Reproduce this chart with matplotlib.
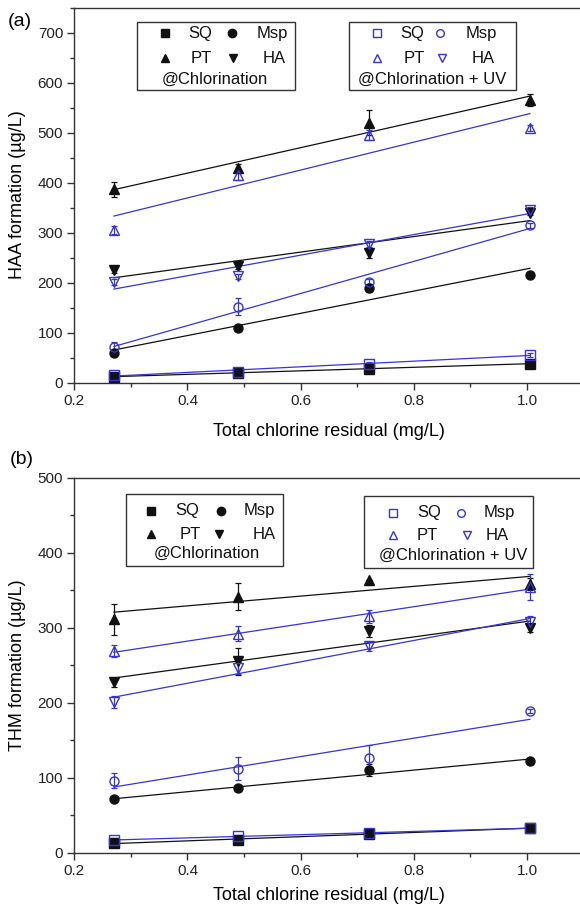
import numpy as np
import matplotlib
matplotlib.use('Agg')
import matplotlib.pyplot as plt
from matplotlib.patches import Rectangle
from matplotlib.lines import Line2D
from matplotlib.ticker import MultipleLocator

plt.rcParams['font.family'] = ['Liberation Sans', 'DejaVu Sans']

# ---------------- data ----------------
x_res = [0.27, 0.49, 0.72, 1.005]
series_names = ['SQ', 'Msp', 'PT', 'HA']

# (a) HAA formation (ug/L)
haa_cl_SQ = [12, 20, 28, 38]
haa_cl_Msp = [60, 109, 189, 216]
haa_cl_PT = [387, 430, 520, 565]
haa_cl_HA = [225, 234, 259, 340]
haa_uv_SQ = [16, 22, 38, 56]
haa_uv_Msp = [72, 152, 202, 315]
haa_uv_PT = [305, 415, 495, 510]
haa_uv_HA = [202, 213, 277, 346]

haa_cl_SQ_err = [3, 3, 3, 3]
haa_cl_Msp_err = [5, 5, 8, 5]
haa_cl_PT_err = [15, 8, 25, 12]
haa_cl_HA_err = [6, 6, 10, 5]
haa_uv_SQ_err = [3, 3, 4, 4]
haa_uv_Msp_err = [10, 17, 5, 5]
haa_uv_PT_err = [8, 10, 10, 6]
haa_uv_HA_err = [6, 5, 6, 5]

# (b) THM formation (ug/L)
thm_cl_SQ = [13, 17, 25, 33]
thm_cl_Msp = [71, 86, 110, 122]
thm_cl_PT = [311, 341, 364, 358]
thm_cl_HA = [227, 255, 296, 299]
thm_uv_SQ = [17, 22, 26, 33]
thm_uv_Msp = [96, 112, 126, 189]
thm_uv_PT = [269, 292, 315, 354]
thm_uv_HA = [201, 246, 275, 308]

thm_cl_SQ_err = [2, 2, 2, 2]
thm_cl_Msp_err = [3, 3, 8, 3]
thm_cl_PT_err = [21, 18, 0, 8]
thm_cl_HA_err = [6, 18, 8, 5]
thm_uv_SQ_err = [2, 2, 2, 2]
thm_uv_Msp_err = [10, 15, 17, 3]
thm_uv_PT_err = [8, 10, 9, 17]
thm_uv_HA_err = [8, 8, 6, 7]

# ---------------- style ----------------
BLACK = '#111111'
BLUE = '#3535d8'
markers = {'SQ': 's', 'Msp': 'o', 'PT': '^', 'HA': 'v'}

W, H = 580, 911
fig = plt.figure(figsize=(W / 100, H / 100), dpi=100)


def fx(px):
    return px / W


def fy(py):
    return 1 - py / H


ax1 = fig.add_axes([fx(74.3), fy(382.7), 509.4 / W, 375 / H])
ax2 = fig.add_axes([fx(74.3), fy(852.7), 509.4 / W, 375 / H])


def draw_panel(ax, cl, cl_err, uv, uv_err, ymax):
    xs = np.array(x_res)
    for name in series_names:
        for vals, errs, col, filled in ((cl[name], cl_err[name], BLACK, True),
                                        (uv[name], uv_err[name], BLUE, False)):
            vals = np.array(vals, dtype=float)
            k, b = np.polyfit(xs, vals, 1)
            ax.plot([xs[0], xs[-1]], [k * xs[0] + b, k * xs[-1] + b],
                    color=col, lw=0.9, zorder=2)
            ax.errorbar(xs, vals, yerr=errs, fmt='none', ecolor=col,
                        elinewidth=0.9, capsize=2.5, capthick=0.9, zorder=3)
            ax.plot(xs, vals, linestyle='none', marker=markers[name],
                    ms=6.5 if filled else 6.5,
                    mfc=col if filled else 'none', mec=col, mew=1.0, zorder=4)
    ax.set_xlim(0.2, 1.1)
    ax.set_ylim(0, ymax)
    ax.xaxis.set_major_locator(MultipleLocator(0.2))
    ax.xaxis.set_minor_locator(MultipleLocator(0.1))
    ax.yaxis.set_major_locator(MultipleLocator(100))
    ax.yaxis.set_minor_locator(MultipleLocator(50))
    ax.xaxis.set_major_formatter(plt.FuncFormatter(lambda v, p: f'{v:.1f}'))
    ax.tick_params(which='major', direction='out', length=5, width=1,
                   labelsize=11, color='#333333', labelcolor='#222222', pad=3)
    ax.tick_params(which='minor', direction='out', length=3, width=1,
                   color='#333333')
    for s in ax.spines.values():
        s.set_color('#333333')
        s.set_linewidth(1.0)


def legend_box(box, items, title, title_xy, col, filled, ms):
    x0, y0, x1, y1 = box
    fig.add_artist(Rectangle((fx(x0), fy(y1)), (x1 - x0) / W, (y1 - y0) / H,
                             transform=fig.transFigure, fc='white',
                             ec='#333333', lw=1.0, zorder=5))
    for (mx, my, mk, tx, label) in items:
        fig.add_artist(Line2D([fx(mx)], [fy(my)], marker=mk, ms=ms,
                              mfc=col if filled else 'none', mec=col, mew=1.0,
                              linestyle='none', transform=fig.transFigure,
                              zorder=6))
        fig.text(fx(tx), fy(my), label, ha='center', va='center',
                 fontsize=12, color='#111111', zorder=6)
    fig.text(fx(title_xy[0]), fy(title_xy[1]), title, ha='center',
             va='center', fontsize=12, color='#111111', zorder=6)


cl_a = dict(SQ=haa_cl_SQ, Msp=haa_cl_Msp, PT=haa_cl_PT, HA=haa_cl_HA)
cl_a_e = dict(SQ=haa_cl_SQ_err, Msp=haa_cl_Msp_err, PT=haa_cl_PT_err, HA=haa_cl_HA_err)
uv_a = dict(SQ=haa_uv_SQ, Msp=haa_uv_Msp, PT=haa_uv_PT, HA=haa_uv_HA)
uv_a_e = dict(SQ=haa_uv_SQ_err, Msp=haa_uv_Msp_err, PT=haa_uv_PT_err, HA=haa_uv_HA_err)
cl_b = dict(SQ=thm_cl_SQ, Msp=thm_cl_Msp, PT=thm_cl_PT, HA=thm_cl_HA)
cl_b_e = dict(SQ=thm_cl_SQ_err, Msp=thm_cl_Msp_err, PT=thm_cl_PT_err, HA=thm_cl_HA_err)
uv_b = dict(SQ=thm_uv_SQ, Msp=thm_uv_Msp, PT=thm_uv_PT, HA=thm_uv_HA)
uv_b_e = dict(SQ=thm_uv_SQ_err, Msp=thm_uv_Msp_err, PT=thm_uv_PT_err, HA=thm_uv_HA_err)

draw_panel(ax1, cl_a, cl_a_e, uv_a, uv_a_e, 750)
draw_panel(ax2, cl_b, cl_b_e, uv_b, uv_b_e, 500)

# axis labels
fig.text(fx(18), fy(195), 'HAA formation (\u00b5g/L)', rotation=90,
         ha='center', va='center', fontsize=13)
fig.text(fx(18), fy(665), 'THM formation (\u00b5g/L)', rotation=90,
         ha='center', va='center', fontsize=13)
fig.text(fx(329), fy(432), 'Total chlorine residual (mg/L)', ha='center',
         va='center', fontsize=13)
fig.text(fx(329), fy(895), 'Total chlorine residual (mg/L)', ha='center',
         va='center', fontsize=13)
fig.text(fx(20), fy(22), '(a)', ha='center', va='center', fontsize=14)
fig.text(fx(22), fy(460), '(b)', ha='center', va='center', fontsize=14)

# legends panel (a)
legend_box((137, 21.7, 295, 90),
           [(164.6, 33.3, 's', 199.8, 'SQ'), (232, 33.3, 'o', 272, 'Msp'),
            (164.6, 58.3, '^', 201.6, 'PT'), (233, 58.3, 'v', 273.8, 'HA')],
           '@Chlorination', (215.3, 79.3), BLACK, True, 6)
legend_box((348.5, 21.7, 516, 90),
           [(377.4, 33.3, 's', 412.5, 'SQ'), (440, 33.3, 'o', 481, 'Msp'),
            (377.4, 58.3, '^', 414, 'PT'), (442, 58.3, 'v', 482.8, 'HA')],
           '@Chlorination + UV', (431.7, 79.3), BLUE, False, 5.5)
# legends panel (b)
legend_box((125.8, 494.3, 283, 566),
           [(151, 511, 's', 186.8, 'SQ'), (220.9, 511, 'o', 259, 'Msp'),
            (151, 534.3, '^', 190, 'PT'), (219, 534.3, 'v', 264, 'HA')],
           '@Chlorination', (206.4, 553.3), BLACK, True, 6)
legend_box((363.7, 496, 532.7, 567.7),
           [(393.3, 512.7, 's', 429, 'SQ'), (460.6, 512.7, 'o', 499.4, 'Msp'),
            (393.3, 535.3, '^', 427.3, 'PT'), (467, 535.3, 'v', 497.6, 'HA')],
           '@Chlorination + UV', (453.2, 555), BLUE, False, 5.5)

fig.savefig('out.png', dpi=100)
